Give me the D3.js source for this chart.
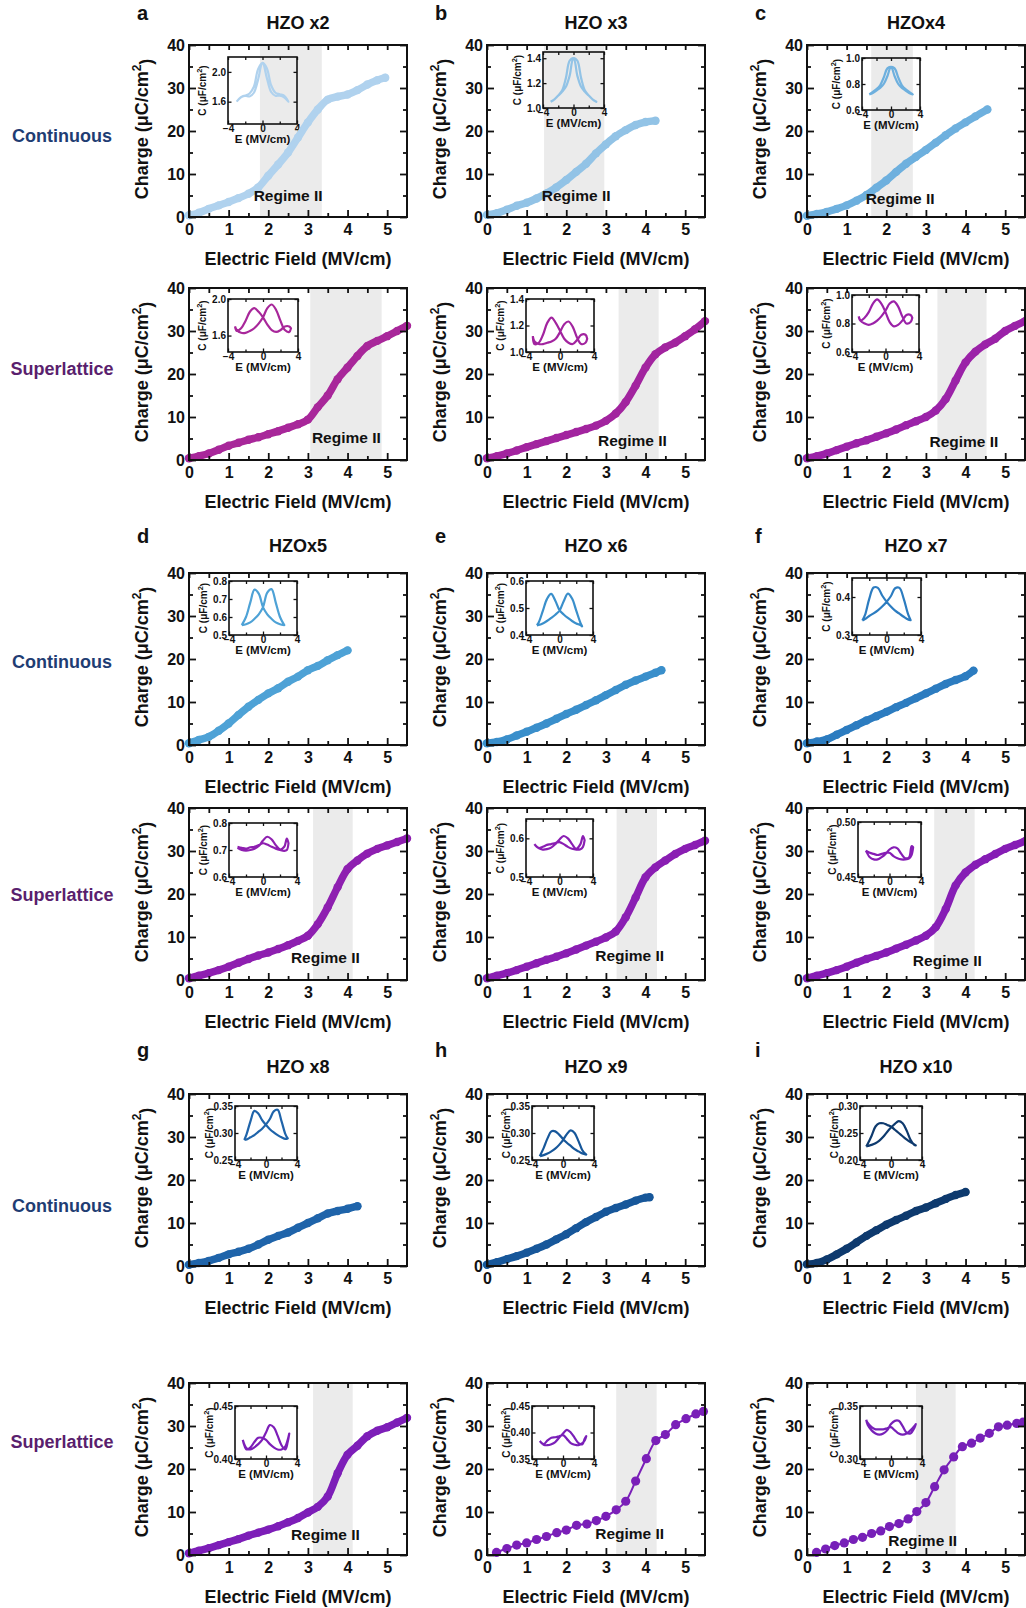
<!DOCTYPE html>
<html>
<head>
<meta charset="utf-8">
<script src="https://cdn.jsdelivr.net/npm/d3@7"></script>
<style>
body { margin: 0; background: #fff; }
svg { display: block; }
</style>
</head>
<body>
<div id="fig"></div>
<script>
// ---- data ----
var samples = ["HZO x2", "HZO x3", "HZOx4", "HZOx5", "HZO x6", "HZO x7", "HZO x8", "HZO x9", "HZO x10"];
var letters = ["a", "b", "c", "d", "e", "f", "g", "h", "i"];

// field grid (MV/cm) for the densely sampled sweeps
var gridE = [0, 0.25, 0.5, 0.75, 1, 1.25, 1.5, 1.75, 2, 2.25, 2.5, 2.75, 3, 3.25, 3.5, 3.75, 4, 4.25, 4.5, 4.75, 5, 5.25, 5.5];

// continuous films: charge (uC/cm2) on gridE, plus last measured point
var contCharge = [
    [0.4, 1.0, 1.9, 2.7, 3.5, 4.4, 5.4, 6.9, 9.6, 12.2, 15.0, 18.5, 22.0, 25.0, 27.3, 28.0, 28.5, 29.5, 30.8, 31.8],
    [0.5, 0.9, 1.7, 2.6, 3.3, 4.3, 5.5, 6.9, 8.6, 10.5, 12.4, 14.8, 16.9, 18.8, 20.2, 21.4, 22.1],
    [0.3, 0.7, 1.2, 1.9, 2.7, 3.8, 5.1, 6.8, 8.5, 10.5, 12.4, 14.0, 15.6, 17.3, 19.0, 20.6, 22.0, 23.4],
    [0.4, 1.2, 1.9, 3.3, 5.0, 7.0, 8.9, 10.5, 12.0, 13.2, 14.7, 15.9, 17.4, 18.4, 19.7, 20.9],
    [0.4, 0.7, 1.3, 2.2, 3.1, 4.0, 5.0, 6.1, 7.2, 8.2, 9.3, 10.4, 11.6, 12.8, 14.0, 15.0, 15.9, 16.8],
    [0.4, 0.8, 1.3, 2.4, 3.5, 4.6, 5.7, 6.7, 7.7, 8.8, 9.8, 10.9, 12.0, 13.1, 14.2, 15.1, 16.0],
    [0.3, 0.7, 1.2, 1.9, 2.7, 3.3, 4.0, 5.0, 6.1, 7.0, 7.8, 8.9, 10.0, 11.1, 12.2, 12.8, 13.3],
    [0.3, 0.9, 1.6, 2.3, 3.1, 4.0, 5.0, 6.2, 7.4, 8.8, 10.2, 11.4, 12.6, 13.5, 14.3, 15.2, 15.9],
    [0.4, 0.7, 1.5, 2.7, 4.0, 5.5, 7.0, 8.3, 9.6, 10.7, 11.7, 12.8, 13.6, 14.6, 15.6, 16.5]
];
var contEnd = [[4.95, 32.4], [4.25, 22.4], [4.55, 25.0], [4.0, 22.0], [4.4, 17.4], [4.2, 17.3], [4.25, 13.9], [4.1, 16.0], [4.0, 17.2]];

// superlattices: a-g on gridE, h and i sparse
var slCharge = [
    [0.4, 0.9, 1.5, 2.4, 3.3, 4.0, 4.7, 5.3, 6.0, 6.7, 7.5, 8.3, 9.4, 12.3, 15.0, 18.8, 21.5, 24.2, 26.5, 27.7, 28.8, 30.0, 31.2],
    [0.4, 0.9, 1.5, 2.2, 3.0, 3.7, 4.4, 5.1, 5.8, 6.5, 7.2, 8.0, 9.1, 10.8, 13.5, 17.3, 21.5, 24.6, 26.2, 27.3, 28.8, 30.4, 32.3],
    [0.4, 0.9, 1.5, 2.3, 3.1, 3.9, 4.6, 5.4, 6.2, 7.1, 8.1, 9.0, 10.0, 11.5, 14.2, 18.5, 22.7, 25.2, 26.9, 28.2, 30.0, 31.2, 32.3],
    [0.4, 1.0, 1.6, 2.3, 3.1, 4.0, 4.9, 5.7, 6.4, 7.2, 8.1, 9.1, 10.3, 13.0, 16.9, 21.6, 25.8, 27.8, 29.4, 30.5, 31.3, 32.1, 32.9],
    [0.4, 1.0, 1.6, 2.3, 3.1, 3.9, 4.7, 5.4, 6.2, 7.1, 8.0, 8.9, 9.9, 11.3, 14.6, 19.2, 23.9, 26.2, 27.8, 29.3, 30.5, 31.4, 32.4],
    [0.4, 1.0, 1.6, 2.3, 3.1, 4.0, 4.9, 5.6, 6.4, 7.3, 8.2, 9.2, 10.3, 12.3, 16.5, 22.0, 25.0, 26.8, 28.1, 29.3, 30.5, 31.4, 32.3],
    [0.4, 1.0, 1.6, 2.3, 3.0, 3.7, 4.5, 5.2, 5.9, 6.7, 7.6, 8.6, 9.9, 11.2, 13.6, 19.0, 23.3, 25.4, 27.6, 28.9, 29.7, 30.8, 31.9],
    [0.6, 1.5, 2.3, 2.8, 3.6, 4.3, 5.2, 5.8, 6.9, 7.2, 8.0, 9.0, 10.5, 12.5, 17.2, 22.4, 26.6, 28.0, 30.3, 31.7, 32.8, 33.4],
    [0.6, 1.4, 2.2, 2.8, 3.6, 4.1, 5.0, 5.6, 6.6, 7.3, 8.4, 10.1, 12.2, 15.9, 19.8, 22.8, 25.2, 26.0, 27.2, 28.3, 29.8, 30.2, 30.6, 30.9]
];
var slFieldH = [0.24, 0.5, 0.75, 1.0, 1.25, 1.5, 1.76, 2.0, 2.26, 2.52, 2.76, 3.0, 3.26, 3.5, 3.75, 4.02, 4.26, 4.5, 4.76, 5.02, 5.27, 5.46];
var slFieldI = [0.24, 0.47, 0.7, 0.94, 1.17, 1.4, 1.63, 1.86, 2.08, 2.32, 2.55, 2.77, 3.0, 3.22, 3.46, 3.7, 3.92, 4.15, 4.37, 4.6, 4.83, 5.05, 5.29, 5.45];

// Regime II bands (MV/cm) and label centres [E, Q]
var contRegime = [[1.79, 3.35], [1.44, 2.96], [1.62, 2.67], null, null, null, null, null, null];
var contRegimeLabel = [[2.5, 5.0], [2.25, 5.0], [2.35, 4.2], null, null, null, null, null, null];
var slRegime = [[3.06, 4.86], [3.32, 4.33], [3.29, 4.53], [3.13, 4.13], [3.27, 4.29], [3.21, 4.23], [3.13, 4.13], [3.26, 4.28], [2.75, 3.75]];
var slRegimeLabel = [[3.97, 5.2], [3.67, 4.6], [3.96, 4.2], [3.44, 5.3], [3.6, 5.7], [3.54, 4.6], [3.44, 4.7], [3.6, 4.9], [2.92, 3.4]];

// inset C-E butterflies: field grids
var insE11 = [-2.5, -2, -1.5, -1, -0.5, 0, 0.5, 1, 1.5, 2, 2.5];
var insE13 = [-3, -2.5, -2, -1.5, -1, -0.5, 0, 0.5, 1, 1.5, 2, 2.5, 3];
var insE13a = [-2.7, -2.5, -2, -1.5, -1, -0.5, 0, 0.5, 1, 1.5, 2, 2.5, 2.7];
var insE13b = [-2.8, -2.5, -2, -1.5, -1, -0.5, 0, 0.5, 1, 1.5, 2, 2.5, 2.8];
var insE14 = [-3, -2.5, -2, -1.5, -1, -0.5, 0, 0.5, 1, 1.5, 2, 2.5, 2.8, 3];
var insE15 = [-3.2, -3, -2.5, -2, -1.5, -1, -0.5, 0, 0.5, 1, 1.5, 2, 2.5, 3, 3.2];

var contInsetE = [insE13, insE13, insE13, insE11, insE13a, insE13b, insE13b, insE13, insE15];
var contInsetRange = [[1.3, 2.2], [1.0, 1.45], [0.6, 1.0], [0.5, 0.8], [0.4, 0.6], [0.3, 0.45], [0.25, 0.35], [0.25, 0.35], [0.2, 0.3]];
var contInsetTicks = [[1.6, 2.0], [1.0, 1.2, 1.4], [0.6, 0.8, 1.0], [0.5, 0.6, 0.7, 0.8], [0.4, 0.5, 0.6], [0.3, 0.4], [0.25, 0.30, 0.35], [0.25, 0.30, 0.35], [0.20, 0.25, 0.30]];
var contInsetDec = [1, 1, 1, 1, 1, 1, 2, 2, 2];
// forward (up) and reverse (down) sweeps, both listed in ascending field
var contInsetUp = [
    [1.60, 1.66, 1.68, 1.67, 1.72, 1.90, 2.12, 2.05, 1.82, 1.72, 1.70, 1.68, 1.60],
    [1.05, 1.07, 1.10, 1.13, 1.17, 1.26, 1.40, 1.38, 1.24, 1.14, 1.10, 1.07, 1.05],
    [0.72, 0.73, 0.75, 0.77, 0.80, 0.86, 0.93, 0.92, 0.85, 0.79, 0.76, 0.74, 0.72],
    [0.555, 0.56, 0.57, 0.59, 0.615, 0.655, 0.735, 0.755, 0.68, 0.60, 0.555],
    [0.436, 0.437, 0.443, 0.452, 0.463, 0.475, 0.490, 0.525, 0.553, 0.535, 0.490, 0.445, 0.432],
    [0.338, 0.342, 0.350, 0.357, 0.365, 0.375, 0.387, 0.402, 0.423, 0.424, 0.395, 0.355, 0.339],
    [0.287, 0.288, 0.292, 0.296, 0.302, 0.308, 0.316, 0.326, 0.340, 0.343, 0.322, 0.298, 0.290],
    [0.257, 0.259, 0.262, 0.266, 0.271, 0.278, 0.287, 0.298, 0.305, 0.300, 0.285, 0.268, 0.260],
    [0.225, 0.226, 0.228, 0.231, 0.236, 0.243, 0.252, 0.260, 0.267, 0.272, 0.268, 0.255, 0.238, 0.228, 0.227]
];
var contInsetDown = [
    [1.60, 1.66, 1.68, 1.71, 1.80, 2.04, 2.12, 1.92, 1.73, 1.68, 1.68, 1.66, 1.60],
    [1.05, 1.07, 1.10, 1.14, 1.24, 1.38, 1.40, 1.26, 1.17, 1.13, 1.10, 1.07, 1.05],
    [0.72, 0.74, 0.76, 0.79, 0.85, 0.92, 0.93, 0.86, 0.80, 0.77, 0.75, 0.73, 0.72],
    [0.555, 0.60, 0.68, 0.752, 0.73, 0.655, 0.615, 0.59, 0.57, 0.56, 0.555],
    [0.436, 0.445, 0.488, 0.533, 0.552, 0.527, 0.492, 0.476, 0.463, 0.452, 0.443, 0.437, 0.432],
    [0.338, 0.352, 0.395, 0.425, 0.424, 0.404, 0.388, 0.375, 0.364, 0.356, 0.348, 0.341, 0.339],
    [0.287, 0.298, 0.322, 0.341, 0.336, 0.324, 0.315, 0.307, 0.301, 0.296, 0.292, 0.289, 0.290],
    [0.257, 0.272, 0.290, 0.303, 0.303, 0.297, 0.289, 0.282, 0.276, 0.270, 0.266, 0.262, 0.260],
    [0.225, 0.230, 0.245, 0.262, 0.268, 0.268, 0.265, 0.262, 0.256, 0.250, 0.244, 0.238, 0.233, 0.229, 0.227]
];

var slInsetE = [insE15, insE15, insE15, insE14, insE14, insE14, insE14, insE14, insE15];
var slInsetRange = [[1.42, 2.0], [1.0, 1.4], [0.6, 1.0], [0.6, 0.8], [0.5, 0.65], [0.45, 0.5], [0.40, 0.45], [0.35, 0.45], [0.30, 0.35]];
var slInsetTicks = [[1.6, 2.0], [1.0, 1.2, 1.4], [0.6, 0.8, 1.0], [0.6, 0.7, 0.8], [0.5, 0.6], [0.45, 0.50], [0.40, 0.45], [0.35, 0.40, 0.45], [0.30, 0.35]];
var slInsetDec = [1, 1, 1, 1, 1, 2, 2, 2, 2];
var slInsetUp = [
    [1.70, 1.66, 1.63, 1.63, 1.65, 1.68, 1.73, 1.80, 1.90, 1.94, 1.88, 1.76, 1.66, 1.64, 1.68],
    [1.12, 1.08, 1.06, 1.06, 1.07, 1.08, 1.10, 1.15, 1.21, 1.23, 1.19, 1.11, 1.06, 1.07, 1.10],
    [0.85, 0.82, 0.80, 0.79, 0.80, 0.82, 0.85, 0.89, 0.94, 0.955, 0.92, 0.85, 0.80, 0.81, 0.84],
    [0.708, 0.700, 0.698, 0.700, 0.705, 0.715, 0.735, 0.749, 0.740, 0.718, 0.702, 0.712, 0.742, 0.725],
    [0.585, 0.575, 0.571, 0.572, 0.576, 0.585, 0.597, 0.606, 0.600, 0.585, 0.573, 0.585, 0.606, 0.595],
    [0.474, 0.468, 0.466, 0.466, 0.468, 0.471, 0.475, 0.477, 0.476, 0.471, 0.467, 0.468, 0.478, 0.477],
    [0.418, 0.410, 0.409, 0.411, 0.414, 0.418, 0.425, 0.432, 0.430, 0.422, 0.413, 0.409, 0.416, 0.424],
    [0.384, 0.377, 0.376, 0.378, 0.382, 0.390, 0.398, 0.405, 0.400, 0.390, 0.380, 0.378, 0.388, 0.393],
    [0.337, 0.332, 0.327, 0.324, 0.323, 0.324, 0.327, 0.333, 0.336, 0.336, 0.331, 0.325, 0.324, 0.329, 0.333]
];
var slInsetDown = [
    [1.70, 1.65, 1.68, 1.76, 1.86, 1.90, 1.86, 1.80, 1.72, 1.66, 1.64, 1.66, 1.70, 1.70, 1.68],
    [1.12, 1.06, 1.07, 1.13, 1.22, 1.26, 1.22, 1.16, 1.10, 1.07, 1.06, 1.09, 1.13, 1.13, 1.10],
    [0.85, 0.82, 0.84, 0.88, 0.94, 0.97, 0.94, 0.88, 0.81, 0.78, 0.79, 0.82, 0.86, 0.86, 0.84],
    [0.712, 0.708, 0.705, 0.710, 0.712, 0.718, 0.725, 0.720, 0.712, 0.705, 0.700, 0.697, 0.700, 0.725],
    [0.585, 0.575, 0.578, 0.583, 0.585, 0.588, 0.590, 0.585, 0.578, 0.573, 0.571, 0.572, 0.578, 0.595],
    [0.474, 0.472, 0.471, 0.470, 0.471, 0.472, 0.472, 0.469, 0.467, 0.466, 0.466, 0.467, 0.470, 0.477],
    [0.418, 0.409, 0.411, 0.416, 0.420, 0.420, 0.418, 0.414, 0.411, 0.409, 0.409, 0.412, 0.418, 0.424],
    [0.384, 0.378, 0.385, 0.390, 0.391, 0.393, 0.395, 0.388, 0.380, 0.377, 0.376, 0.380, 0.385, 0.393],
    [0.337, 0.334, 0.330, 0.328, 0.328, 0.328, 0.329, 0.330, 0.327, 0.324, 0.323, 0.324, 0.327, 0.331, 0.333]
];

// ---- layout and style ----
var FONT = '"Liberation Sans", Arial, Helvetica, sans-serif';
var contColor = ["#b0d2ee", "#92c3e6", "#6eb0de", "#4ea2d6", "#3a8fcb", "#2c7cc0", "#1f64aa", "#17579a", "#0e3a6e"];
var slColor = ["#a8279a", "#a2249f", "#9b22a8", "#8e1fb0", "#8a1eb3", "#861db5", "#7d1eb8", "#7a1fb8", "#7720b8"];
var colLeft = [189, 487, 807];
var contTop = [45, 573, 1094];
var slTop = [288, 808, 1383];
var titleY = [29, 552, 1073];
var letterY = [20, 543, 1057];
var contLabelY = [142, 668, 1212];
var slLabelY = [375, 901, 1448];
var plotW = 218, plotH = 172;
// inset boxes relative to the panel frame: dx, dy, w, h
var contInsetBox = [[39, 12, 69, 67], [56, 7, 61, 56], [55, 13, 58, 52], [40, 8, 68, 54], [39, 8, 67, 54], [45, 5, 69, 57], [46, 12, 62, 54], [45, 12, 62, 54], [53, 12, 62, 54]];
var slInsetBox = [[39, 11, 70, 53], [39, 11, 68, 53], [45, 7, 67, 57], [40, 15, 68, 54], [39, 11, 67, 58], [51, 14, 63, 55], [46, 23, 62, 53], [45, 23, 62, 53], [53, 23, 62, 53]];

function styleAxis(sel, fs, sw) {
    sel.attr("font-size", fs).attr("font-family", FONT).attr("font-weight", "bold");
    sel.select(".domain").remove();
    sel.selectAll("line").attr("stroke", "#111").attr("stroke-width", sw);
    sel.selectAll("text").attr("fill", "#111");
}

function drawInset(g, box, range, ticks, dec, eArr, up, down, color) {
    var ix = d3.scaleLinear().domain([-4, 4]).range([0, box[2]]);
    var iy = d3.scaleLinear().domain(range).range([box[3], 0]);
    var ig = g.append("g").attr("transform", "translate(" + box[0] + "," + box[1] + ")");

    var pts = eArr.map(function (e, i) { return [e, up[i]]; })
        .concat(eArr.map(function (e, i) { return [e, down[i]]; }).reverse());
    ig.append("path")
        .attr("d", d3.line().x(function (d) { return ix(d[0]); }).y(function (d) { return iy(d[1]); })
            .curve(d3.curveCatmullRom)(pts))
        .attr("fill", "none").attr("stroke", color).attr("stroke-width", 2.2).attr("stroke-linejoin", "round");

    var fmt = d3.format("." + dec + "f");
    ig.append("g").attr("transform", "translate(0," + box[3] + ")")
        .call(d3.axisBottom(ix).tickValues([-4, 0, 4]).tickSize(-3.5).tickPadding(1))
        .call(styleAxis, 10, 1.3);
    ig.append("g").attr("transform", "translate(0," + box[3] + ")")
        .call(d3.axisBottom(ix).tickValues([-2, 2]).tickSize(-2.5).tickFormat(""))
        .call(styleAxis, 10, 1.3);
    ig.append("g")
        .call(d3.axisTop(ix).tickValues([-4, -2, 0, 2, 4]).tickSize(-3).tickFormat(""))
        .call(styleAxis, 10, 1.3);
    ig.append("g")
        .call(d3.axisLeft(iy).tickValues(ticks).tickSize(-3.5).tickPadding(2).tickFormat(fmt))
        .call(styleAxis, 10, 1.3);
    ig.append("g").attr("transform", "translate(" + box[2] + ",0)")
        .call(d3.axisRight(iy).tickValues(ticks).tickSize(-3.5).tickFormat(""))
        .call(styleAxis, 10, 1.3);
    ig.append("rect").attr("width", box[2]).attr("height", box[3])
        .attr("fill", "none").attr("stroke", "#111").attr("stroke-width", 1.6);

    ig.append("text").attr("x", box[2] / 2).attr("y", box[3] + 19)
        .attr("text-anchor", "middle").attr("font-size", 11.5).attr("font-family", FONT)
        .attr("font-weight", "bold").attr("fill", "#111").text("E (MV/cm)");
    var cl = ig.append("text")
        .attr("transform", "translate(-22," + (box[3] / 2) + ") rotate(-90)")
        .attr("text-anchor", "middle").attr("font-size", 10).attr("font-family", FONT)
        .attr("font-weight", "bold").attr("fill", "#111");
    cl.append("tspan").text("C (\u03BCF/cm");
    cl.append("tspan").attr("dy", "-0.55em").attr("font-size", 7.5).text("2");
    cl.append("tspan").attr("dy", "0.55em").text(")");
}

function drawPanel(svg, left, top, p) {
    var x = d3.scaleLinear().domain([0, 5.5]).range([0, plotW]);
    var y = d3.scaleLinear().domain([0, 40]).range([plotH, 0]);
    var g = svg.append("g").attr("transform", "translate(" + left + "," + top + ")");

    if (p.regime) {
        g.append("rect")
            .attr("x", x(p.regime[0])).attr("y", 0)
            .attr("width", x(p.regime[1]) - x(p.regime[0])).attr("height", plotH)
            .attr("fill", "#ebebeb");
    }

    drawInset(g, p.box, p.range, p.ticks, p.dec, p.insE, p.up, p.down, p.color);

    var pts = p.e.map(function (e, i) { return [e, p.q[i]]; });
    var line = d3.line().x(function (d) { return x(d[0]); }).y(function (d) { return y(d[1]); })
        .curve(d3.curveCatmullRom);
    g.append("path").attr("d", line(pts)).attr("fill", "none").attr("stroke", p.color)
        .attr("stroke-width", p.sparse ? 2 : 7.5)
        .attr("stroke-linecap", "round").attr("stroke-linejoin", "round");
    g.selectAll("circle.pt").data(pts).enter().append("circle")
        .attr("class", "pt")
        .attr("cx", function (d) { return x(d[0]); })
        .attr("cy", function (d) { return y(d[1]); })
        .attr("r", p.sparse ? 4.6 : 4.2)
        .attr("fill", p.color);

    if (p.regime) {
        g.append("text")
            .attr("x", x(p.label[0])).attr("y", y(p.label[1])).attr("dy", "0.35em")
            .attr("text-anchor", "middle").attr("font-size", 15.5).attr("font-family", FONT)
            .attr("font-weight", "bold").attr("fill", "#111").text("Regime II");
    }

    // axes, ticks inward on all four sides
    g.append("g").attr("transform", "translate(0," + plotH + ")")
        .call(d3.axisBottom(x).tickValues([0, 1, 2, 3, 4, 5]).tickSize(-7).tickPadding(7).tickFormat(d3.format("d")))
        .call(styleAxis, 16, 1.8);
    g.append("g").attr("transform", "translate(0," + plotH + ")")
        .call(d3.axisBottom(x).tickValues([0.5, 1.5, 2.5, 3.5, 4.5]).tickSize(-4).tickFormat(""))
        .call(styleAxis, 16, 1.8);
    g.append("g")
        .call(d3.axisTop(x).tickValues([0, 0.5, 1, 1.5, 2, 2.5, 3, 3.5, 4, 4.5, 5]).tickSize(-5).tickFormat(""))
        .call(styleAxis, 16, 1.8);
    g.append("g")
        .call(d3.axisLeft(y).tickValues([0, 10, 20, 30, 40]).tickSize(-7).tickPadding(4))
        .call(styleAxis, 16, 1.8);
    g.append("g")
        .call(d3.axisLeft(y).tickValues([5, 15, 25, 35]).tickSize(-4).tickFormat(""))
        .call(styleAxis, 16, 1.8);
    g.append("g").attr("transform", "translate(" + plotW + ",0)")
        .call(d3.axisRight(y).tickValues([0, 10, 20, 30, 40]).tickSize(-7).tickFormat(""))
        .call(styleAxis, 16, 1.8);
    g.append("g").attr("transform", "translate(" + plotW + ",0)")
        .call(d3.axisRight(y).tickValues([5, 15, 25, 35]).tickSize(-4).tickFormat(""))
        .call(styleAxis, 16, 1.8);
    g.append("rect").attr("width", plotW).attr("height", plotH)
        .attr("fill", "none").attr("stroke", "#111").attr("stroke-width", 2);

    g.append("text").attr("x", plotW / 2).attr("y", plotH + 48)
        .attr("text-anchor", "middle").attr("font-size", 18).attr("font-family", FONT)
        .attr("font-weight", "bold").attr("fill", "#111").text("Electric Field (MV/cm)");
    var yl = g.append("text")
        .attr("transform", "translate(-41," + (plotH / 2 - 2) + ") rotate(-90)")
        .attr("text-anchor", "middle").attr("font-size", 18).attr("font-family", FONT)
        .attr("font-weight", "bold").attr("fill", "#111");
    yl.append("tspan").text("Charge (\u03BCC/cm");
    yl.append("tspan").attr("dy", "-0.6em").attr("font-size", 12).text("2");
    yl.append("tspan").attr("dy", "0.6em").text(")");
}

function init() {
    var svg = d3.select("#fig").append("svg")
        .attr("width", 1026).attr("height", 1608);
    svg.append("rect").attr("width", 1026).attr("height", 1608).attr("fill", "#fff");

    for (var r = 0; r < 3; r++) {
        svg.append("text").attr("x", 62).attr("y", contLabelY[r])
            .attr("text-anchor", "middle").attr("font-size", 18).attr("font-family", FONT)
            .attr("font-weight", "bold").attr("fill", "#1f3d73").text("Continuous");
        svg.append("text").attr("x", 62).attr("y", slLabelY[r])
            .attr("text-anchor", "middle").attr("font-size", 18).attr("font-family", FONT)
            .attr("font-weight", "bold").attr("fill", "#5a1f6e").text("Superlattice");
    }

    for (var k = 0; k < 9; k++) {
        var row = Math.floor(k / 3), col = k % 3;
        var left = colLeft[col];

        svg.append("text").attr("x", left - 52).attr("y", letterY[row])
            .attr("font-size", 20).attr("font-family", FONT).attr("font-weight", "bold")
            .attr("fill", "#111").text(letters[k]);
        svg.append("text").attr("x", left + plotW / 2).attr("y", titleY[row])
            .attr("text-anchor", "middle").attr("font-size", 18).attr("font-family", FONT)
            .attr("font-weight", "bold").attr("fill", "#111").text(samples[k]);

        var q = contCharge[k];
        drawPanel(svg, left, contTop[row], {
            e: gridE.slice(0, q.length).concat([contEnd[k][0]]),
            q: q.concat([contEnd[k][1]]),
            color: contColor[k], sparse: false,
            regime: contRegime[k], label: contRegimeLabel[k],
            box: contInsetBox[k], range: contInsetRange[k], ticks: contInsetTicks[k], dec: contInsetDec[k],
            insE: contInsetE[k], up: contInsetUp[k], down: contInsetDown[k]
        });

        var sparse = k >= 7;
        var se = k === 7 ? slFieldH : (k === 8 ? slFieldI : gridE);
        drawPanel(svg, left, slTop[row], {
            e: se, q: slCharge[k],
            color: slColor[k], sparse: sparse,
            regime: slRegime[k], label: slRegimeLabel[k],
            box: slInsetBox[k], range: slInsetRange[k], ticks: slInsetTicks[k], dec: slInsetDec[k],
            insE: slInsetE[k], up: slInsetUp[k], down: slInsetDown[k]
        });
    }
}

init();
</script>
</body>
</html>
